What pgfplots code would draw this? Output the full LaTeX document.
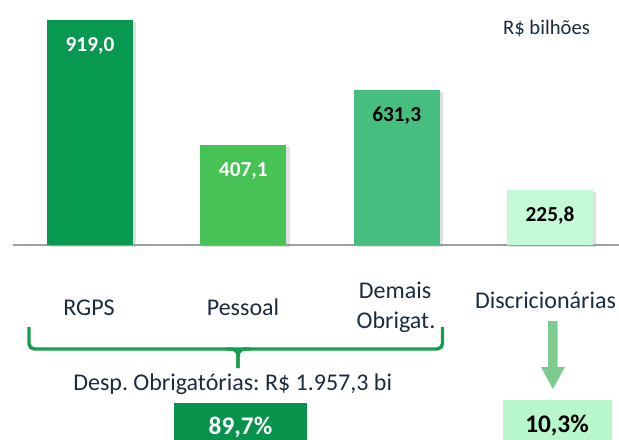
\documentclass[border=0pt]{standalone}
\usepackage{pgfplots}
\pgfplotsset{compat=1.18}
\usepackage{fontspec}
\setmainfont{Carlito}
\usetikzlibrary{shadows}
\definecolor{cA}{HTML}{07994F}
\definecolor{cB}{HTML}{47C355}
\definecolor{cC}{HTML}{45BE80}
\definecolor{cD}{HTML}{C4F8D6}
\definecolor{txt}{HTML}{1B2B40}
\definecolor{bracec}{HTML}{179E4C}
\definecolor{arrowc}{HTML}{7ECB8F}
\definecolor{boxA}{HTML}{08934C}
\definecolor{boxB}{HTML}{B8F7CC}
\definecolor{basel}{HTML}{A0A0A0}
\frenchspacing
\begin{document}
\begin{tikzpicture}
\begin{axis}[
  scale only axis, width=464.25pt, height=329.25pt,
  xmin=-0.58696, xmax=3.45, ymin=-792.4, ymax=1000.7,
  hide axis, clip=false,
  bar width=0.561,
  nodes near coords={\pgfmathprintnumber[fixed,fixed zerofill,precision=1,use comma,assume math mode=true]{\pgfplotspointmeta}},
  vlab/.style={every node near coord/.append style={anchor=base, yshift=-23.6pt, inner sep=0pt, font=\fontsize{16}{18}\selectfont\bfseries, text=#1}},
  barshadow/.style={drop shadow={shadow xshift=2.5pt, shadow yshift=-1.5pt, fill=black!40, opacity=0.3}},
]
\draw[basel, line width=1.5pt] (axis cs:-0.5022,0) -- (axis cs:3.45,0);
\addplot[ybar, bar shift=0pt, fill=cA, draw=none, barshadow, vlab=white] coordinates {(0,919.0)};
\addplot[ybar, bar shift=0pt, fill=cB, draw=none, barshadow, vlab=white] coordinates {(1,407.1)};
\addplot[ybar, bar shift=0pt, fill=cC, draw=none, barshadow, vlab=black] coordinates {(2,631.3)};
\addplot[ybar, bar shift=0pt, fill=cD, draw=none, barshadow, vlab=black] coordinates {(3,225.8)};
\coordinate (SW) at (rel axis cs:0,0);
\coordinate (NE) at (rel axis cs:1,1);
\coordinate (NW) at (rel axis cs:0,1);
\end{axis}
\pgfresetboundingbox
\useasboundingbox (SW) rectangle (NE);
\begin{scope}[shift={(NW)}, x=0.75pt, y=-0.75pt, every node/.style={inner sep=0pt, anchor=base, text=txt, font=\fontsize{18}{20}\selectfont}]
\node[font=\fontsize{15.5}{18}\selectfont] at (546.5,35) {R\$ bilhões};
\node at (89,315) {RGPS};
\node at (243,315) {Pessoal};
\node at (395,298) {Demais};
\node at (396,328) {Obrigat.};
\node at (545.5,308) {Discricionárias};
\draw[bracec, line width=2.6pt, rounded corners=4pt] (29,327) -- (29,349) -- (442.5,349) -- (442.5,327);
\draw[bracec, line width=2.6pt, rounded corners=5pt] (226,349) -| (238,368);
\draw[bracec, line width=2.6pt, rounded corners=5pt] (250,349) -| (238,368);
\node at (232.7,390) {Desp. Obrigatórias: R\$ 1.957,3 bi};
\fill[boxA] (174,402.7) rectangle (307,445);
\node[text=white, font=\fontsize{19}{21}\selectfont\bfseries] at (240.5,434) {89,7\%};
\fill[arrowc] (548,321) -- (557.5,321) -- (557.5,367) -- (565,367) -- (552.75,389) -- (541,367) -- (548,367) -- cycle;
\fill[boxB] (503,400) rectangle (612,445);
\node[text=black, font=\fontsize{19}{21}\selectfont\bfseries] at (557,432) {10,3\%};
\end{scope}
\end{tikzpicture}
\end{document}
